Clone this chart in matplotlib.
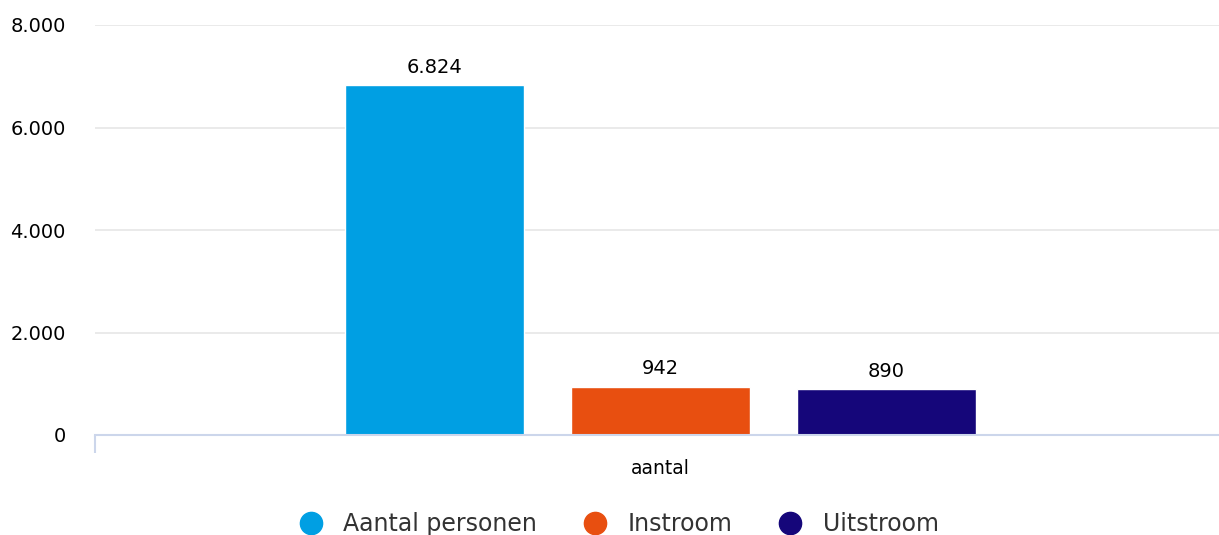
import matplotlib.pyplot as plt
from matplotlib.lines import Line2D

# Gegevens
categorie = "aantal"
reeksen = ["Aantal personen", "Instroom", "Uitstroom"]
waarden = [6824, 942, 890]
kleuren = ["#009fe3", "#e84f10", "#15067a"]
y_ticks = [0, 2000, 4000, 6000, 8000]


def fmt(v):
    return f"{v:,}".replace(",", ".")


fig = plt.figure(figsize=(12.19, 5.35), dpi=100)
ax = fig.add_axes([95 / 1219, 100 / 535, 1 - 95 / 1219, 410 / 535])

posities = [-1, 0, 1]
ax.bar(posities, waarden, width=0.79, color=kleuren, edgecolor="white", linewidth=1, zorder=3)
for x, v in zip(posities, waarden):
    ax.annotate(fmt(v), (x, v), xytext=(0, 6), textcoords="offset points",
                ha="center", va="bottom", fontsize=14, color="black")

ax.set_xlim(-2.502, 2.471)
ax.set_ylim(0, 8000)
ax.set_yticks(y_ticks)
ax.set_yticklabels([fmt(t) for t in y_ticks], fontsize=14)
ax.yaxis.grid(True, color="#e6e6e6", linewidth=1.2, zorder=0)
ax.tick_params(axis="y", length=0, pad=21)

ax.set_xticks([0])
ax.set_xticklabels([categorie], fontsize=13.5)
ax.tick_params(axis="x", length=0, pad=17)
ax.set_xticks([-2.502], minor=True)
ax.tick_params(axis="x", which="minor", length=13, color="#ccd6eb", width=1.5, direction="out")

for s in ["top", "right", "left"]:
    ax.spines[s].set_visible(False)
ax.spines["bottom"].set_color("#ccd6eb")
ax.spines["bottom"].set_linewidth(1.5)
ax.spines["bottom"].set_zorder(4)

handles = [Line2D([0], [0], marker="o", linestyle="", markersize=16, color=k) for k in kleuren]
fig.legend(handles, reeksen, loc="center", bbox_to_anchor=(0.503, 0.02), ncol=3,
           frameon=False, fontsize=17, labelcolor="#333333", handletextpad=0.38,
           columnspacing=1.45)

fig.savefig("out.png", dpi=100)
